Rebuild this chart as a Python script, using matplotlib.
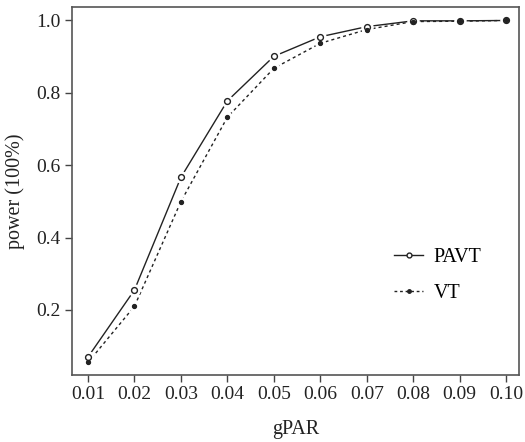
import numpy as np
import matplotlib
matplotlib.use("Agg")
import matplotlib.pyplot as plt

# data
gpar = [0.01, 0.02, 0.03, 0.04, 0.05, 0.06, 0.07, 0.08, 0.09, 0.10]
pavt = [0.070, 0.255, 0.566, 0.777, 0.900, 0.954, 0.982, 0.998, 0.998, 0.999]
vt = [0.055, 0.210, 0.499, 0.732, 0.867, 0.936, 0.974, 0.996, 0.997, 0.999]
xtick_labels = ["0.01", "0.02", "0.03", "0.04", "0.05", "0.06", "0.07", "0.08", "0.09", "0.10"]
yticks = [0.2, 0.4, 0.6, 0.8, 1.0]

plt.rcParams["font.family"] = ["Liberation Serif", "DejaVu Serif"]
plt.rcParams["font.size"] = 14

fig = plt.figure(figsize=(5.25, 4.42), dpi=100)
ax = fig.add_axes([0.137, 0.152, 0.852, 0.832])

ink = "#222222"
# lines (R type="b" look: white halos under the points leave small gaps)
ax.plot(gpar, vt, color=ink, lw=1.0, ls=(0, (2.2, 2.2)), zorder=2)
ax.plot(gpar, pavt, color=ink, lw=1.0, zorder=2)
ax.plot(gpar, vt, ls="none", marker="o", ms=7, mfc="white", mec="white", zorder=3)
ax.plot(gpar, pavt, ls="none", marker="o", ms=8, mfc="white", mec="white", zorder=3)
ax.plot(gpar, pavt, ls="none", marker="o", ms=4.2, mfc="white", mec=ink, mew=1.0, zorder=4)
ax.plot(gpar, vt, ls="none", marker="o", ms=2.8, mfc=ink, mec=ink, zorder=5)

# legend proxies
ax.plot([], [], color=ink, lw=1.0, marker="o", ms=3.5, mfc="white", mec=ink, label="PAVT")
ax.plot([], [], color=ink, lw=1.0, ls=(0, (2, 2)), marker="o", ms=2.5, mfc=ink, mec=ink, label="VT")
h, l = ax.get_legend_handles_labels()
ax.legend(h[-2:], l[-2:], loc="center left", bbox_to_anchor=(0.68, 0.27), frameon=False,
          handlelength=1.45, handletextpad=0.5, labelspacing=0.85, fontsize=14.5)

ax.set_xlim(0.00655, 0.1028)
ax.set_ylim(0.021, 1.036)
ax.set_xticks(gpar)
ax.set_xticklabels(xtick_labels)
ax.set_yticks(yticks)
ax.set_yticklabels(["%.1f" % v for v in yticks])
ax.tick_params(direction="out", length=5, width=1.0, color="#444444", pad=3, labelcolor=ink)
for s in ax.spines.values():
    s.set_color("#555555")
    s.set_linewidth(1.2)

ax.set_xlabel("gPAR", fontsize=14.5, color=ink, labelpad=12)
ax.set_ylabel("power (100%)", fontsize=14.5, color=ink, labelpad=8)

fig.savefig("out.png", dpi=100)
